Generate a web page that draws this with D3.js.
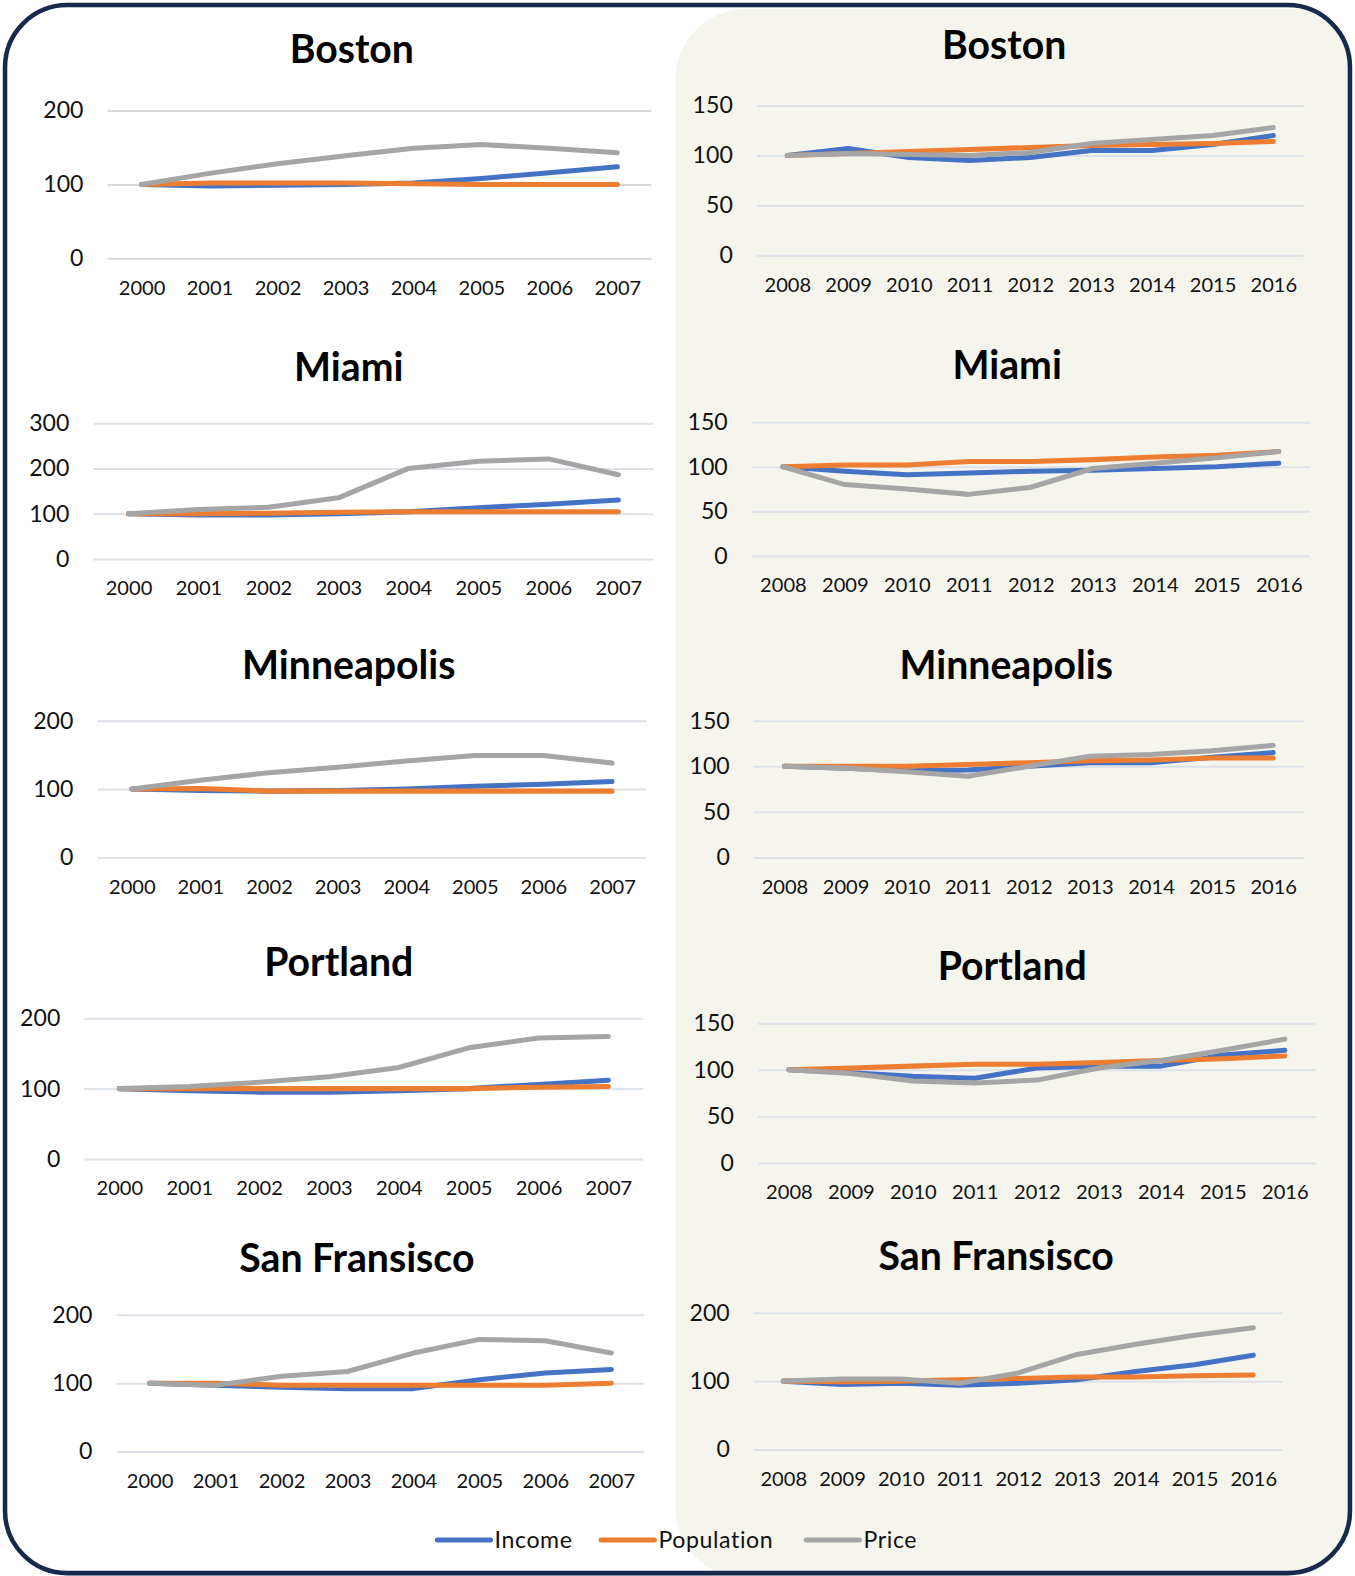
<!DOCTYPE html>
<html>
<head>
<meta charset="utf-8">
<script src="https://cdn.jsdelivr.net/npm/d3@7"></script>
<style>
  html, body { margin: 0; padding: 0; background: #ffffff; }
  svg { display: block; }
</style>
</head>
<body>
<svg id="chart" width="1355" height="1576"></svg>
<script>
// ---- categories ----
const yearsEarly = ["2000", "2001", "2002", "2003", "2004", "2005", "2006", "2007"];
const yearsLate = ["2008", "2009", "2010", "2011", "2012", "2013", "2014", "2015", "2016"];
const seriesNames = ["Income", "Population", "Price"];

// ---- index values (base year = 100), 2000–2007 ----
const bostonEarlyIncome     = [100, 98, 99, 100, 102, 108, 116, 124];
const bostonEarlyPopulation = [100, 102, 102, 102, 101, 100, 100, 100];
const bostonEarlyPrice      = [100, 115, 128, 139, 149, 154, 149, 143];

const miamiEarlyIncome      = [100, 97, 97, 100, 104, 113, 121, 130];
const miamiEarlyPopulation  = [100, 100, 101, 103, 104, 104, 104, 104];
const miamiEarlyPrice       = [100, 109, 114, 135, 200, 216, 221, 186];

const minneEarlyIncome      = [100, 98, 97, 98, 100, 104, 107, 111];
const minneEarlyPopulation  = [100, 101, 97, 97, 97, 97, 97, 97];
const minneEarlyPrice       = [100, 113, 124, 132, 141, 149, 149, 138];

const portlandEarlyIncome     = [100, 97, 95, 95, 97, 100, 106, 112];
const portlandEarlyPopulation = [100, 100, 100, 100, 100, 100, 102, 103];
const portlandEarlyPrice      = [100, 103, 109, 117, 130, 158, 172, 174];

const sfEarlyIncome         = [100, 97, 94, 92, 92, 105, 115, 120];
const sfEarlyPopulation     = [100, 100, 97, 97, 97, 97, 97, 100];
const sfEarlyPrice          = [100, 97, 110, 117, 144, 164, 162, 144];

// ---- index values (base year = 100), 2008–2016 ----
const bostonLateIncome      = [100, 107, 98, 95, 98, 105, 105, 111, 120];
const bostonLatePopulation  = [100, 102, 104, 106, 108, 110, 111, 112, 114];
const bostonLatePrice       = [100, 102, 101, 100, 103, 112, 116, 120, 128];

const miamiLateIncome       = [100, 95, 91, 93, 95, 96, 98, 100, 104];
const miamiLatePopulation   = [100, 102, 102, 106, 106, 108, 111, 113, 117];
const miamiLatePrice        = [100, 80, 75, 69, 77, 98, 104, 110, 117];

const minneLateIncome       = [100, 98, 95, 96, 100, 104, 104, 110, 115];
const minneLatePopulation   = [100, 100, 100, 102, 104, 106, 107, 109, 109];
const minneLatePrice        = [100, 98, 94, 89, 100, 111, 113, 117, 123];

const portlandLateIncome     = [100, 97, 93, 91, 102, 104, 104, 116, 121];
const portlandLatePopulation = [100, 102, 104, 106, 106, 108, 110, 112, 115];
const portlandLatePrice      = [100, 96, 88, 86, 89, 102, 110, 121, 133];

const sfLateIncome          = [100, 95, 97, 94, 97, 102, 114, 124, 138];
const sfLatePopulation      = [100, 99, 100, 102, 104, 106, 106, 108, 109];
const sfLatePrice           = [100, 103, 103, 97, 112, 139, 154, 167, 178];

// ---- y-axis tick labels ----
const ticks0to200 = [0, 100, 200];
const ticks0to300 = [0, 100, 200, 300];
const ticks0to150 = [0, 50, 100, 150];

// ---- styling ----
const seriesColors = { Income: "#4472C4", Population: "#ED7D31", Price: "#A5A5A5" };
const fontFamily = "Lato, 'Open Sans', sans-serif";

// Panel layout (title centre, plot box) paired with each city's data
const panels = [
  { title: "Boston", years: yearsEarly, ticks: ticks0to200, tx: 350, ty: 49, x0: 107, x1: 648, yTop: 110, yBase: 257, grid: "#d9d9d9",
    series: [bostonEarlyIncome, bostonEarlyPopulation, bostonEarlyPrice] },
  { title: "Miami", years: yearsEarly, ticks: ticks0to300, tx: 347, ty: 365, x0: 93, x1: 650, yTop: 421, yBase: 556,
    series: [miamiEarlyIncome, miamiEarlyPopulation, miamiEarlyPrice] },
  { title: "Minneapolis", years: yearsEarly, ticks: ticks0to200, tx: 347, ty: 661, x0: 97, x1: 643, yTop: 717, yBase: 853,
    series: [minneEarlyIncome, minneEarlyPopulation, minneEarlyPrice] },
  { title: "Portland", years: yearsEarly, ticks: ticks0to200, tx: 337, ty: 957, x0: 84, x1: 640, yTop: 1013, yBase: 1153,
    series: [portlandEarlyIncome, portlandEarlyPopulation, portlandEarlyPrice] },
  { title: "San Fransisco", years: yearsEarly, ticks: ticks0to200, tx: 355, ty: 1251, x0: 116, x1: 641, yTop: 1308, yBase: 1444,
    series: [sfEarlyIncome, sfEarlyPopulation, sfEarlyPrice] },

  { title: "Boston", years: yearsLate, ticks: ticks0to150, tx: 999, ty: 45, x0: 753, x1: 1297, yTop: 105, yBase: 254,
    series: [bostonLateIncome, bostonLatePopulation, bostonLatePrice] },
  { title: "Miami", years: yearsLate, ticks: ticks0to150, tx: 1002, ty: 363, x0: 748, x1: 1303, yTop: 420, yBase: 553,
    series: [miamiLateIncome, miamiLatePopulation, miamiLatePrice] },
  { title: "Minneapolis", years: yearsLate, ticks: ticks0to150, tx: 1001, ty: 661, x0: 750, x1: 1297, yTop: 717, yBase: 853,
    series: [minneLateIncome, minneLatePopulation, minneLatePrice] },
  { title: "Portland", years: yearsLate, ticks: ticks0to150, tx: 1007, ty: 961, x0: 754, x1: 1309, yTop: 1018, yBase: 1157,
    series: [portlandLateIncome, portlandLatePopulation, portlandLatePrice] },
  { title: "San Fransisco", years: yearsLate, ticks: ticks0to200, tx: 991, ty: 1249, x0: 750, x1: 1276, yTop: 1306, yBase: 1442,
    series: [sfLateIncome, sfLatePopulation, sfLatePrice] }
];

const svg = d3.select("#chart");
const root = svg.append("g").attr("transform", `scale(${1355 / 1348})`);

// ---- background frame ----
const defs = svg.append("defs");
defs.append("clipPath").attr("id", "frameClip")
  .append("rect").attr("x", 5).attr("y", 5).attr("width", 1338).attr("height", 1560).attr("rx", 62);

root.append("rect")
  .attr("clip-path", "url(#frameClip)")
  .attr("x", 672).attr("y", 9).attr("width", 760).attr("height", 1561).attr("rx", 70)
  .attr("fill", "#f5f5ed");

root.append("rect")
  .attr("x", 5).attr("y", 5).attr("width", 1338).attr("height", 1560).attr("rx", 62)
  .attr("fill", "none").attr("stroke", "#17294d").attr("stroke-width", 4.5);

// ---- panels ----
panels.forEach(p => {
  const g = root.append("g");
  const x = d3.scalePoint().domain(p.years).range([p.x0, p.x1]).padding(0.5);
  const y = d3.scaleLinear().domain([0, d3.max(p.ticks)]).range([p.yBase, p.yTop]);

  // title
  g.append("text")
    .attr("x", p.tx).attr("y", p.ty).attr("dy", "0.36em")
    .attr("text-anchor", "middle")
    .attr("font-family", fontFamily).attr("font-weight", 700)
    .attr("font-size", 39).attr("fill", "#000")
    .text(p.title);

  // y gridlines + labels
  const yAxis = g.append("g")
    .attr("transform", `translate(${p.x0},0)`)
    .call(d3.axisLeft(y).tickValues(p.ticks).tickSize(-(p.x1 - p.x0)).tickPadding(24).tickFormat(d3.format("d")));
  yAxis.select(".domain").remove();
  yAxis.selectAll(".tick line").attr("stroke", p.grid || "#dde1e8").attr("stroke-width", 2);
  yAxis.selectAll(".tick text")
    .attr("font-family", fontFamily).attr("font-size", 23).attr("fill", "#111");

  // x labels
  const xAxis = g.append("g")
    .attr("transform", `translate(0,${p.yBase})`)
    .call(d3.axisBottom(x).tickSize(0).tickPadding(22));
  xAxis.select(".domain").remove();
  xAxis.selectAll(".tick text")
    .attr("font-family", fontFamily).attr("font-size", 20).attr("fill", "#111");

  // series lines
  const line = d3.line()
    .x((d, i) => x(p.years[i]))
    .y(d => y(d));
  p.series.forEach((vals, si) => {
    g.append("path")
      .datum(vals)
      .attr("d", line)
      .attr("fill", "none")
      .attr("stroke", seriesColors[seriesNames[si]])
      .attr("stroke-width", 5)
      .attr("stroke-linecap", "round")
      .attr("stroke-linejoin", "round");
  });
});

// ---- legend ----
const legendItems = [
  { name: "Income", lx: 435 },
  { name: "Population", lx: 598 },
  { name: "Price", lx: 802 }
];
const legend = root.append("g").attr("transform", "translate(0,1532)");
legendItems.forEach(it => {
  legend.append("line")
    .attr("x1", it.lx).attr("x2", it.lx + 53).attr("y1", 0).attr("y2", 0)
    .attr("stroke", seriesColors[it.name]).attr("stroke-width", 5).attr("stroke-linecap", "round");
  legend.append("text")
    .attr("x", it.lx + 57).attr("y", 0).attr("dy", "0.36em")
    .attr("font-family", fontFamily).attr("font-size", 23).attr("fill", "#111")
    .attr("letter-spacing", 0.6)
    .text(it.name);
});
</script>
</body>
</html>
